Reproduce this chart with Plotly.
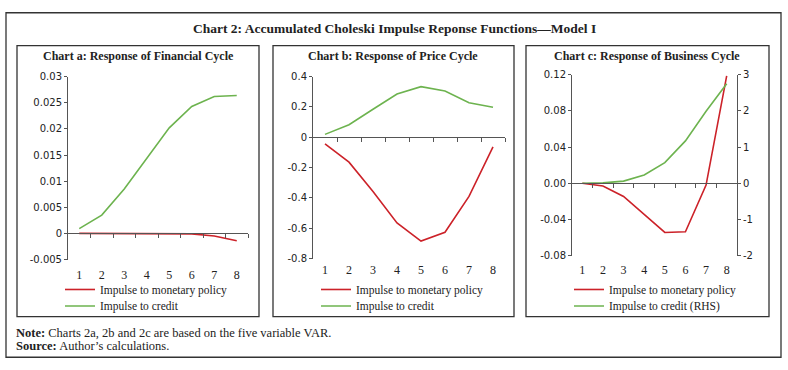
import plotly.graph_objects as go

# ---------------- data ----------------
periods = [1, 2, 3, 4, 5, 6, 7, 8]
period_labels = ["1", "2", "3", "4", "5", "6", "7", "8"]

fin_monetary = [0.0, 0.0, 0.0, 0.0, 0.0, -0.0001, -0.0005, -0.0014]
fin_credit = [0.0009, 0.0035, 0.0085, 0.0144, 0.0202, 0.0243, 0.0262, 0.0264]

price_monetary = [-0.043, -0.164, -0.358, -0.565, -0.685, -0.627, -0.39, -0.064]
price_credit = [0.019, 0.083, 0.185, 0.285, 0.334, 0.305, 0.228, 0.198]

bus_monetary = [0.0, -0.003, -0.0146, -0.034, -0.0544, -0.0537, -0.002, 0.1187]
bus_credit = [0.0, 0.01, 0.06, 0.23, 0.57, 1.17, 1.99, 2.75]

fin_ticks = [-0.005, 0, 0.005, 0.01, 0.015, 0.02, 0.025, 0.03]
fin_ticktext = ["-0.005", "0", "0.005", "0.01", "0.015", "0.02", "0.025", "0.03"]
price_ticks = [-0.8, -0.6, -0.4, -0.2, 0, 0.2, 0.4]
price_ticktext = ["-0.8", "-0.6", "-0.4", "-0.2", "0", "0.2", "0.4"]
bus_ticks = [-0.08, -0.04, 0, 0.04, 0.08, 0.12]
bus_ticktext = ["-0.08", "-0.04", "0.00", "0.04", "0.08", "0.12"]
bus_rhs_ticks = [-2, -1, 0, 1, 2, 3]
bus_rhs_ticktext = ["-2", "-1", "0", "1", "2", "3"]

name_mon = "Impulse to monetary policy"
name_cred = "Impulse to credit"
name_cred_rhs = "Impulse to credit (RHS)"

title_main = "Chart 2: Accumulated Choleski Impulse Reponse Functions\u2014Model I"
title_a = "Chart a: Response of Financial Cycle"
title_b = "Chart b: Response of Price Cycle"
title_c = "Chart c: Response of Business Cycle"
note_text = "<b>Note:</b> Charts 2a, 2b and 2c are based on the five variable VAR."
source_text = "<b>Source:</b> Author\u2019s calculations."

# ---------------- styling ----------------
W, H = 788, 370
RED = "#cc2229"
GREEN = "#6db34f"
AXIS = "#555555"
TXT = "#222222"
SERIF = "Liberation Serif, DejaVu Serif, serif"
SANS = "DejaVu Sans, Liberation Sans, sans-serif"


def fx(x):
    return x / W


def fy(y):
    return 1 - y / H


# plot areas in pixels: (left, right, top, bottom)
areas = {
    "a": (68, 248, 73, 262),
    "b": (313, 505, 73, 261),
    "c": (572, 737, 71, 258),
}
boxes = {"a": (17, 259), "b": (273, 514), "c": (526, 769)}
ranges = {"a": (-0.005, 0.03), "b": (-0.8, 0.4), "c": (-0.08, 0.12)}
standoff = {"a": 6, "b": 2, "c": 5}
legend_x = {"a": 60, "b": 316, "c": 569}
legend_rows = [278, 295]

fig = go.Figure()

line_w = 1.6
series = [
    ("x", "y", "legend", fin_monetary, name_mon, RED),
    ("x", "y", "legend2", fin_credit, name_cred, GREEN),
    ("x2", "y2", "legend3", price_monetary, name_mon, RED),
    ("x2", "y2", "legend4", price_credit, name_cred, GREEN),
    ("x3", "y3", "legend5", bus_monetary, name_mon, RED),
    ("x3", "y4", "legend6", bus_credit, name_cred_rhs, GREEN),
]
for xa, ya, lg, vals, nm, col in series:
    fig.add_trace(go.Scatter(x=periods, y=vals, mode="lines", name=nm,
                             line=dict(color=col, width=line_w), xaxis=xa, yaxis=ya,
                             legend=lg))

# invisible traces so the zero-line axes get drawn
for xa, ya, vals in [("x4", "y", fin_monetary), ("x5", "y2", price_monetary), ("x6", "y3", bus_monetary)]:
    fig.add_trace(go.Scatter(x=periods, y=vals, mode="lines", line=dict(width=0, color="rgba(0,0,0,0)"),
                             xaxis=xa, yaxis=ya, showlegend=False, hoverinfo="skip"))

layout = dict(
    width=W, height=H,
    margin=dict(l=0, r=0, t=0, b=0),
    paper_bgcolor="white", plot_bgcolor="rgba(0,0,0,0)",
    font=dict(family=SERIF, color=TXT),
    showlegend=True,
)

xrange = [periods[0] - 0.5, periods[-1] + 0.5]
boundaries = [p + 0.5 for p in periods]

for i, key in enumerate(["a", "b", "c"]):
    l, r, t, b = areas[key]
    ymin, ymax = ranges[key]
    sfx = "" if i == 0 else str(i + 1)
    ticks, ttext = {"a": (fin_ticks, fin_ticktext), "b": (price_ticks, price_ticktext),
                    "c": (bus_ticks, bus_ticktext)}[key]
    ydom = [fy(b), fy(t)]
    layout["xaxis" + sfx] = dict(
        domain=[fx(l), fx(r)], range=xrange, anchor="y" + sfx,
        tickmode="array", tickvals=periods, ticktext=period_labels,
        showline=False, ticks="", showgrid=False, zeroline=False,
        tickfont=dict(family=SERIF, size=12, color=TXT),
        ticklabelstandoff=standoff[key], fixedrange=True,
    )
    layout["yaxis" + sfx] = dict(
        domain=ydom, range=[ymin, ymax], anchor="x" + sfx,
        tickmode="array", tickvals=ticks, ticktext=ttext,
        showline=True, linecolor=AXIS, linewidth=1,
        ticks="outside", ticklen=3, tickcolor=AXIS, tickwidth=1,
        showgrid=False, zeroline=False,
        tickfont=dict(family=SANS, size=10, color=TXT), fixedrange=True,
    )
    # overlay x-axis drawn at the zero line with ticks between categories
    zero_pos = ydom[0] + (0 - ymin) / (ymax - ymin) * (ydom[1] - ydom[0])
    layout["xaxis" + str(i + 4)] = dict(
        overlaying="x" + sfx, anchor="free", position=zero_pos,
        range=xrange, tickmode="array", tickvals=boundaries,
        showticklabels=False, ticks="outside", ticklen=4, tickcolor=AXIS, tickwidth=1,
        showline=True, linecolor=AXIS, linewidth=1, showgrid=False, zeroline=False,
        fixedrange=True,
    )

# right axis for panel c
layout["yaxis4"] = dict(
    overlaying="y3", anchor="x3", side="right",
    range=[bus_rhs_ticks[0], bus_rhs_ticks[-1]],
    tickmode="array", tickvals=bus_rhs_ticks, ticktext=bus_rhs_ticktext,
    showline=True, linecolor=AXIS, linewidth=1,
    ticks="outside", ticklen=3, tickcolor=AXIS, tickwidth=1,
    showgrid=False, zeroline=False,
    tickfont=dict(family=SANS, size=10, color=TXT), fixedrange=True,
)

leg_common = dict(
    xanchor="left", yanchor="top", bgcolor="rgba(0,0,0,0)",
    font=dict(family=SERIF, size=11.5, color=TXT),
    itemwidth=30, tracegroupgap=0,
)
legend_names = ["legend", "legend2", "legend3", "legend4", "legend5", "legend6"]
k = 0
for key in ["a", "b", "c"]:
    for row in legend_rows:
        layout[legend_names[k]] = dict(leg_common, x=fx(legend_x[key]), y=fy(row))
        k += 1

# boxes
shapes = [dict(type="rect", xref="paper", yref="paper", x0=fx(6), x1=fx(781), y0=fy(363), y1=fy(7),
               line=dict(color="#333333", width=1.3))]
for key in ["a", "b", "c"]:
    x0, x1 = boxes[key]
    shapes.append(dict(type="rect", xref="paper", yref="paper", x0=fx(x0), x1=fx(x1),
                       y0=fy(321), y1=fy(41), line=dict(color="#333333", width=1.3)))
layout["shapes"] = shapes

annotations = [
    dict(text="<b>" + title_main + "</b>", x=fx(394), y=fy(23), xref="paper", yref="paper",
         xanchor="center", yanchor="middle", showarrow=False,
         font=dict(family=SERIF, size=13.5, color=TXT)),
    dict(text="<b>" + title_a + "</b>", x=fx(138), y=fy(52), xref="paper", yref="paper",
         xanchor="center", yanchor="middle", showarrow=False,
         font=dict(family=SERIF, size=12, color=TXT)),
    dict(text="<b>" + title_b + "</b>", x=fx(393), y=fy(52), xref="paper", yref="paper",
         xanchor="center", yanchor="middle", showarrow=False,
         font=dict(family=SERIF, size=12, color=TXT)),
    dict(text="<b>" + title_c + "</b>", x=fx(647), y=fy(52), xref="paper", yref="paper",
         xanchor="center", yanchor="middle", showarrow=False,
         font=dict(family=SERIF, size=12, color=TXT)),
    dict(text=note_text, x=fx(14), y=fy(338), xref="paper", yref="paper",
         xanchor="left", yanchor="middle", showarrow=False,
         font=dict(family=SERIF, size=12.5, color=TXT)),
    dict(text=source_text, x=fx(14), y=fy(351), xref="paper", yref="paper",
         xanchor="left", yanchor="middle", showarrow=False,
         font=dict(family=SERIF, size=12.5, color=TXT)),
]
layout["annotations"] = annotations

fig.update_layout(**layout)
fig.write_html(
    "out.html",
    config={"displayModeBar": False},
    post_script="document.body.style.margin='0';document.body.style.padding='0';"
                "document.body.style.overflow='hidden';",
)
